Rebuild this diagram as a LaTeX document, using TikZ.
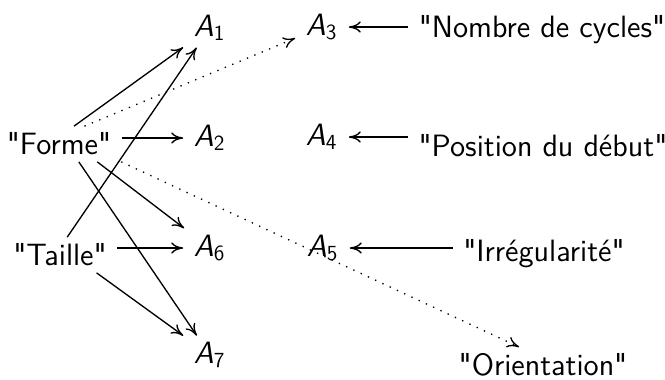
\documentclass[tikz,border=0pt]{standalone}
\usepackage{amsmath}
\usepackage{fontspec}
\newfontfamily\lmsstw{lmsans12-regular}[Extension=.otf, ItalicFont=lmsans12-oblique, Ligatures=TeX]
\usetikzlibrary{arrows.meta}
\newcommand{\Asub}[1]{\textit{A}$_{\text{#1}}$}
\newcommand{\qq}[1]{\textquotedbl#1\textquotedbl}
\begin{document}
\begin{tikzpicture}[x=0.3pt,y=-0.3pt,
  font=\lmsstw\fontsize{9.25}{11}\selectfont,
  >={To[length=3.6pt,width=3.4pt]},
  lbl/.style={inner xsep=3pt, inner ysep=1.8pt},
  arr/.style={->, line width=0.4pt},
  dotarr/.style={->, line width=0.4pt, dotted}]
\useasboundingbox (0,0) rectangle (665,379);
% left column
\node[lbl] (forme)  at (59,144)  {\qq{Forme}};
\node[lbl] (taille) at (60,255)  {\qq{Taille}};
% middle column
\node[lbl] (a1) at (210,28)  {\Asub{1}};
\node[lbl] (a2) at (210,138) {\Asub{2}};
\node[lbl] (a6) at (210,248) {\Asub{6}};
\node[lbl] (a7) at (210,355) {\Asub{7}};
% right column
\node[lbl] (a3) at (322,27)  {\Asub{3}};
\node[lbl] (a4) at (322,137) {\Asub{4}};
\node[lbl] (a5) at (323,248) {\Asub{5}};
\node[lbl] (ncyc)   at (542,30)  {\qq{Nombre de cycles}};
\node[lbl] (posd)   at (543,146) {\qq{Position du début}};
\node[lbl] (irr)    at (544,254) {\qq{Irrégularité}};
\node[lbl] (orient) at (543,365) {\qq{Orientation}};
% connectors
\draw[arr] (forme.50) -- (a1);
\draw[arr] (taille.68) -- (a1);
\draw[dotarr] (forme.35) -- (a3);
\draw[arr] (forme.east |- a2) -- (a2);
\draw[arr] (forme.-25) -- (a6);
\draw[arr] (forme.-42) -- (a7);
\draw[dotarr] (forme.-16) -- (orient.143);
\draw[arr] (taille.east |- a6) -- (a6);
\draw[arr] (taille.-26) -- (a7);
\draw[arr] (ncyc.west |- a3) -- (a3);
\draw[arr] (posd.west |- a4) -- (a4);
\draw[arr] (irr.west |- a5) -- (a5);
\end{tikzpicture}
\end{document}
